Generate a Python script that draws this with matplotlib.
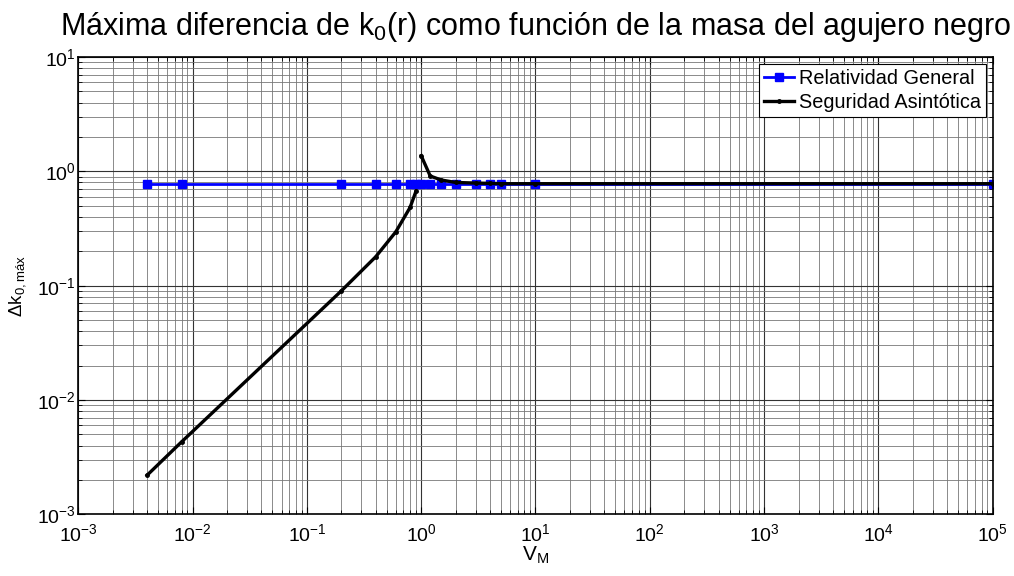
import numpy as np
import matplotlib
matplotlib.use('Agg')
import matplotlib.pyplot as plt
from matplotlib.ticker import NullFormatter

plt.rcParams['font.family'] = ['Liberation Sans', 'DejaVu Sans']
plt.rcParams['mathtext.fontset'] = 'custom'
plt.rcParams['mathtext.rm'] = 'Liberation Sans'
plt.rcParams['mathtext.it'] = 'Liberation Sans:italic'
plt.rcParams['mathtext.default'] = 'regular'

# Relatividad General
vm_rg = [0.004, 0.008, 0.2, 0.4, 0.6, 0.8, 0.9, 1.0, 1.2, 1.5, 2, 3, 4, 5, 10, 1e5]
dk_rg = [0.78] * len(vm_rg)

# Seguridad Asintotica (gap between the two branches near V_M = 1)
vm_sa = [0.004, 0.008, 0.2, 0.4, 0.6, 0.8, 0.9, 0.95, 1.0, 1.2, 1.5, 2, 3, 4, 5, 10, 1e5]
dk_sa = [0.0022, 0.0043, 0.09, 0.179, 0.296, 0.484, 0.67, np.nan,
         1.37, 0.91, 0.84, 0.80, 0.79, 0.785, 0.78, 0.78, 0.78]

fig = plt.figure(figsize=(10.14, 5.76), dpi=100)
ax = fig.add_axes([0.0772, 0.107, 0.9018, 0.794])

ax.loglog(vm_rg, dk_rg, '-s', color=(0, 0, 1), lw=2, ms=6,
          label='Relatividad General')
ax.loglog(vm_sa, dk_sa, '-', color='k', lw=2.4, marker='.', ms=5,
          label='Seguridad Asintótica')

ax.set_xlim(1e-3, 1e5)
ax.set_ylim(1e-3, 1e1)
ax.xaxis.set_minor_formatter(NullFormatter())
ax.yaxis.set_minor_formatter(NullFormatter())
ax.grid(True, which='major', color='#333333', lw=0.8)
ax.grid(True, which='minor', color='#777777', lw=0.6)
ax.tick_params(which='both', direction='in', top=True, right=True,
               labelsize=14, color='k')
ax.tick_params(which='major', length=5)
ax.tick_params(which='minor', length=3)
ax.tick_params(axis='x', which='major', pad=6)
ax.tick_params(axis='y', which='major', pad=2)
for s in ax.spines.values():
    s.set_linewidth(1.2)

ax.set_xlabel('V$_M$', fontsize=15, labelpad=0)
ax.set_ylabel('Δk$_{0,máx}$', fontsize=13.5, labelpad=6)
ax.set_title('Máxima diferencia de k$_0$(r) como función de la masa del agujero negro',
             fontsize=22, pad=16)

leg = ax.legend(loc='upper right', fontsize=14.3, fancybox=False,
                edgecolor='k', framealpha=1, borderaxespad=0.35,
                handlelength=1.5, handletextpad=0.25, borderpad=0.25,
                labelspacing=0.25)
leg.get_frame().set_linewidth(0.8)

fig.savefig('out.png', dpi=100)
